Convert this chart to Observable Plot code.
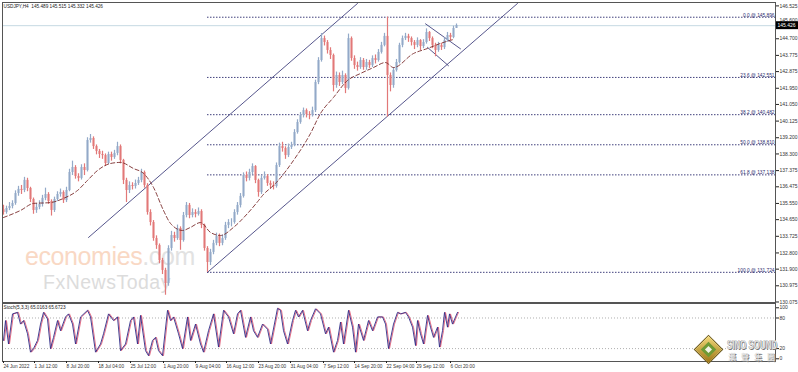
<!DOCTYPE html>
<html><head><meta charset="utf-8">
<script src="https://cdn.jsdelivr.net/npm/d3@7"></script>
<script src="https://cdn.jsdelivr.net/npm/@observablehq/plot@0.6"></script>
<style>
body{margin:0;background:#fff;}
#wrap{position:relative;width:798px;height:372px;overflow:hidden;background:#fff;font-family:"Liberation Sans",Arial,sans-serif;}
#wrap svg{position:absolute;left:0;background:transparent;}
.wm{position:absolute;white-space:nowrap;font-family:"Liberation Sans",Arial,sans-serif;line-height:1.117;}
</style></head><body><div id="wrap">
<div class="wm" style="left:25px;top:243px;font-size:25px;letter-spacing:-0.4px;"><span style="color:#f9d8c4">economies</span><span style="color:#e2e2e2">.com</span></div>
<div class="wm" style="left:43px;top:272px;font-size:19.5px;letter-spacing:0.5px;color:#dcdcdc;">FxNewsToday</div>
</div>
<script>
// ---- data ----
const header = "USDJPY,H4  145.489 145.515 145.332 145.426";
const stochHeader = "Stoch(5,3,3) 65.0163 65.6723";
const firstOpen = 135.20;
const lastPrice = 145.426;
const closes = [135.05,135.27,135.38,135.55,136.10,136.33,136.27,136.83,136.38,135.77,
135.16,135.33,135.49,135.83,136.05,135.66,135.16,135.77,136.05,136.16,
135.71,136.27,137.27,137.55,137.05,136.94,137.55,137.38,139.05,139.16,
138.71,138.44,138.27,138.21,137.77,138.27,138.10,138.33,138.71,137.94,
136.83,136.27,136.55,136.49,136.66,136.83,137.27,136.55,135.05,134.49,
133.60,133.21,132.38,131.83,131.10,133.05,133.77,133.60,134.16,133.49,
134.88,135.44,134.88,135.05,134.94,135.10,134.33,133.05,132.27,132.83,
133.33,133.71,133.33,133.60,134.33,134.49,134.49,135.05,135.44,135.94,
137.10,136.94,137.27,137.60,136.83,136.16,136.94,137.05,136.66,136.55,
136.49,137.66,138.71,138.60,138.21,138.66,138.77,139.49,140.05,140.44,
140.71,140.49,140.44,140.71,142.27,143.49,144.71,144.49,144.05,143.77,
142.10,142.66,142.27,142.66,141.94,144.71,143.60,143.21,143.10,143.49,
143.10,143.38,143.21,143.60,143.49,143.94,144.33,144.83,142.66,142.10,
142.94,143.38,144.33,144.71,144.83,144.71,144.49,144.33,144.60,144.27,
144.49,145.05,144.71,144.33,144.05,144.33,144.21,144.60,144.88,144.77,
145.27,145.43];
const highs = [135.45,135.40,135.60,135.70,136.25,136.50,136.55,137.00,136.95,136.45,
135.85,135.55,135.70,136.00,136.40,136.15,135.75,135.90,136.20,136.35,
136.25,136.45,137.45,137.90,137.65,137.20,137.70,137.75,139.20,139.38,
139.25,138.80,138.55,138.45,138.30,138.40,138.40,138.50,138.95,138.80,
138.00,136.95,136.75,136.70,136.85,137.00,137.45,137.35,136.65,135.20,
134.60,133.75,133.30,132.50,131.95,133.20,134.00,133.95,134.35,134.25,
135.05,135.60,135.55,135.25,135.20,135.30,135.20,134.40,133.15,133.00,
133.50,133.90,133.85,133.80,134.50,134.65,134.70,135.20,135.60,136.10,
137.25,137.30,137.45,137.75,137.65,136.90,137.10,137.30,137.15,136.80,
136.75,137.80,138.90,138.95,138.70,138.85,138.95,139.65,140.20,140.60,
140.85,140.80,140.65,140.90,142.40,143.65,144.99,144.85,144.60,144.20,
143.85,142.85,142.80,142.90,142.75,144.96,144.80,143.75,143.40,143.65,
143.60,143.55,143.50,143.75,143.80,144.10,144.50,145.00,145.90,142.80,
143.10,143.55,144.45,144.85,145.00,144.95,144.80,144.60,144.75,144.65,
144.65,145.25,145.10,144.80,144.45,144.50,144.45,144.75,145.05,145.00,
145.40,145.52];
const lows = [134.90,134.95,135.15,135.25,135.45,135.95,136.05,136.15,136.20,135.60,
134.95,135.00,135.20,135.35,135.70,135.50,134.85,135.05,135.65,135.90,
135.55,135.60,136.20,137.10,136.90,136.75,136.85,137.10,137.30,138.90,
138.55,138.25,138.05,138.00,137.60,137.70,137.90,138.00,138.20,137.75,
136.60,135.60,136.10,136.30,136.35,136.55,136.70,136.40,134.90,134.30,
133.45,133.00,132.20,131.60,130.45,130.95,132.90,133.40,133.50,132.95,
133.40,134.75,134.70,134.75,134.75,134.85,134.15,132.90,131.72,132.10,
132.70,133.20,133.15,133.20,133.50,134.15,134.25,134.40,134.90,135.30,
135.85,136.75,136.80,137.15,136.65,135.90,136.05,136.85,136.50,136.35,
136.30,136.40,137.55,138.40,138.00,138.10,138.55,138.70,139.40,139.95,
140.30,140.30,140.20,140.35,140.60,142.15,143.40,144.30,143.85,143.55,
141.75,141.95,142.05,142.15,141.65,141.85,143.45,143.00,142.90,143.00,
142.95,142.95,143.05,143.10,143.30,143.40,143.85,144.25,140.35,141.75,
141.95,142.85,143.30,144.20,144.60,144.50,144.30,144.10,144.20,144.05,
144.15,144.40,144.55,144.15,143.70,143.95,144.05,144.10,144.50,144.60,
144.70,145.33];
const barStep = 3; // H4 bars per drawn candle

// moving average (dashed), read as anchor points [bar, price]
const maBars =   [0,17,30,47,60,74,84,94,107,117,130,140,150,160,167,179,187,197,207,217,230,244,255,259,272,290,307,317,330,344,357,370,382,390,410,424,437,450];
const maPrices = [134.77,135.16,135.55,135.60,135.83,136.27,136.83,137.38,137.77,137.83,137.49,137.22,136.44,135.16,134.44,134.05,134.22,134.49,133.94,133.77,134.22,134.99,135.71,135.99,136.66,137.94,139.44,140.55,141.44,142.38,142.77,143.10,143.38,143.10,143.88,144.16,144.44,144.66];

// Fibonacci retracement
const fibLevels = [0, 23.6, 38.2, 50.0, 61.8, 100.0];
const fibPrices = [145.896, 142.551, 140.482, 138.810, 137.138, 131.724];
const fibStartBar = 204;

// channel + flag trendlines: [bar, price] anchors
const upperChannel = [[85,133.66],[354,146.66]];
const lowerChannel = [[204,131.724],[514,146.66]];
const flagUpper = [[422,145.53],[457,144.14]];
const flagLower = [[424,144.22],[445,143.20]];

// stochastic (5,3,3) main line turning points
const stochBars = [0,2,5,9,14,17,20,24,27,30,34,37,40,44,47,50,54,57,62,65,69,72,77,84,87,92,97,100,105,110,114,117,122,127,130,134,137,142,145,149,152,155,159,164,167,170,175,179,184,187,192,197,200,205,210,215,220,225,230,234,237,242,247,250,254,259,264,267,274,277,280,284,289,292,295,299,304,307,312,317,322,325,330,334,337,340,345,349,352,355,360,365,369,374,379,382,385,390,394,397,402,405,409,412,414,417,420,424,427,430,434,436,439,441,444,446,449,452,454];
const stochVals = [36,75,29,88,91,68,75,49,13,20,36,68,91,78,20,42,75,55,82,88,68,29,82,95,82,13,29,49,88,75,82,16,29,75,82,29,85,16,6,36,42,16,6,95,75,82,49,20,82,36,68,29,13,55,88,23,95,82,49,88,95,42,82,55,42,68,58,29,99,95,55,29,75,95,82,95,55,75,98,88,49,62,13,36,72,29,95,62,13,68,36,75,55,82,82,68,20,68,91,88,91,82,62,26,75,49,29,85,62,42,62,23,55,91,62,88,68,82,91];

// axes
const yTicks = [146.525,145.600,144.700,143.775,142.875,141.950,141.050,140.125,139.200,138.300,137.375,136.475,135.550,134.650,133.725,132.800,131.900,130.975,130.075];
const stochTicks = [0,20,80,100];
const xTickBars = [-1,30,62,94,126,159,191,222,254,286,319,350,382,412,446];
const xTickLabels = ["24 Jun 2022","1 Jul 12:00","8 Jul 20:00","18 Jul 04:00","25 Jul 12:00","1 Aug 20:00","9 Aug 04:00","16 Aug 12:00","23 Aug 20:00","31 Aug 04:00","7 Sep 12:00","14 Sep 20:00","22 Sep 04:00","29 Sep 12:00","6 Oct 20:00"];

// ---- build tables ----
const candles = closes.map((c, i) => ({
  bar: i * barStep, open: i ? closes[i - 1] : firstOpen, high: highs[i], low: lows[i], close: c
}));
const ma = maBars.map((b, i) => ({bar: b, price: maPrices[i]}));
const fibs = fibLevels.map((l, i) => ({level: l, price: fibPrices[i]}));
const seg = a => a.map(([bar, price]) => ({bar, price}));
const stoch = stochBars.map((b, i) => ({bar: b, v: stochVals[i]}));
const tickMap = new Map(xTickBars.map((b, i) => [b, xTickLabels[i]]));

const UP = "#93a9c8", DN = "#e27878", NAVY = "#2b2b6e";
const W = 798, xDom = [-1, 772];
const font = {fontFamily: "Liberation Sans, Arial, sans-serif", fontSize: "5px", background: "transparent", color: "#222", overflow: "visible"};

const mainChart = Plot.plot({
  width: W, height: 303, marginLeft: 2, marginRight: 23, marginTop: 2, marginBottom: 1,
  x: {domain: xDom, axis: null},
  y: {domain: [130.047, 146.714]},
  style: font,
  marks: [
    Plot.ruleY([lastPrice], {stroke: "#c6d9e2", strokeWidth: 1}),
    Plot.ruleY(fibs, {y: "price", x1: fibStartBar, x2: xDom[1], stroke: NAVY, strokeWidth: 0.9, strokeDasharray: "1.5,1.5"}),
    Plot.text(fibs, {x: 771, y: "price", text: d => d3.format(".1f")(d.level) + " @ " + d.price.toFixed(3), textAnchor: "end", lineAnchor: "bottom", dy: -0.5, fill: NAVY, fontSize: 4.8}),
    Plot.line(seg(upperChannel), {x: "bar", y: "price", stroke: NAVY, strokeWidth: 0.8, clip: true}),
    Plot.line(seg(lowerChannel), {x: "bar", y: "price", stroke: NAVY, strokeWidth: 0.8, clip: true}),
    Plot.line(seg(flagUpper), {x: "bar", y: "price", stroke: NAVY, strokeWidth: 0.8}),
    Plot.line(seg(flagLower), {x: "bar", y: "price", stroke: NAVY, strokeWidth: 0.8}),
    Plot.ruleX(candles, {x: "bar", y1: "low", y2: "high", stroke: d => d.close >= d.open ? UP : DN, strokeWidth: 1.2}),
    Plot.ruleX(candles, {x: "bar", y1: "open", y2: "close", stroke: d => d.close >= d.open ? UP : DN, strokeWidth: 2}),
    Plot.line(ma, {x: "bar", y: "price", stroke: "#7a2b2b", strokeWidth: 0.9, strokeDasharray: "4,2.5", curve: "monotone-x"}),
    Plot.frame({stroke: "#555", strokeWidth: 1}),
    Plot.axisY({anchor: "right", label: null, ticks: yTicks, tickFormat: d3.format(".3f"), tickSize: 3, tickPadding: 1, fontSize: 5, fill: "#333"}),
    Plot.rect([lastPrice], {x1: 773, x2: 796, y1: d => d - 0.22, y2: d => d + 0.22, fill: "#000"}),
    Plot.text([lastPrice], {x: 774, y: d => d, text: d => d.toFixed(3), textAnchor: "start", fill: "#fff", fontSize: 5}),
    Plot.text([header], {frameAnchor: "top-left", dx: 1, dy: 2, fill: "#222", fontSize: 4.7})
  ]
});
mainChart.style.top = "0px";
// nudge the label hidden under the price tag upward, as in the terminal
mainChart.querySelectorAll("text").forEach(t => {
  if (t.textContent === "145.600") t.setAttribute("transform", (t.getAttribute("transform") || "") + " translate(0,-2.5)");
});

const stochChart = Plot.plot({
  width: W, height: 70, marginLeft: 2, marginRight: 23, marginTop: 1, marginBottom: 11,
  x: {domain: xDom},
  y: {domain: [-5.3, 108.4]},
  style: font,
  marks: [
    Plot.ruleY([80, 20], {stroke: "#9a9a9a", strokeWidth: 0.8, strokeDasharray: "1,2"}),
    Plot.line(stoch, {x: "bar", y: "v", stroke: "#e0607a", strokeWidth: 0.9, dx: 1}),
    Plot.line(stoch, {x: "bar", y: "v", stroke: "#2e2a86", strokeWidth: 0.9}),
    Plot.frame({stroke: "#555", strokeWidth: 1}),
    Plot.axisY({anchor: "right", label: null, ticks: stochTicks, tickSize: 3, tickPadding: 1, fontSize: 5, fill: "#333"}),
    Plot.axisX({label: null, ticks: xTickBars, tickFormat: d => tickMap.get(d), textAnchor: "start", tickSize: 2, tickPadding: 1, dx: 1, fontSize: 4.7, fill: "#333"}),
    Plot.text([stochHeader], {frameAnchor: "top-left", dx: 1, dy: 2.5, fill: "#222", fontSize: 4.7})
  ]
});
stochChart.style.top = "302px";

const wrap = document.getElementById("wrap");
wrap.appendChild(mainChart);
wrap.appendChild(stochChart);
// separator between panels
const sep = document.createElement("div");
sep.style.cssText = "position:absolute;left:2px;top:301.5px;width:773px;height:2px;background:#555;";
wrap.appendChild(sep);

// Sino Sound logo (decoration)
const logo = document.createElement("div");
logo.innerHTML = `
<div style="position:absolute;left:699px;top:340px;width:19px;height:19px;transform:rotate(45deg);background:linear-gradient(135deg,#f4d97a,#9c7414);box-shadow:0 0 0 1px #6b5a20;"></div>
<div style="position:absolute;left:703px;top:344px;width:11px;height:11px;transform:rotate(45deg);background:#6f9a35;"></div>
<div style="position:absolute;left:706px;top:347px;width:5px;height:5px;transform:rotate(45deg);background:#f4f4e8;"></div>
<div style="position:absolute;left:727px;top:338px;font:bold 12px 'Liberation Sans',Arial,sans-serif;color:#e2e2e2;transform:scaleX(0.66);transform-origin:left top;text-shadow:1px 1px 0 #777,-0.5px -0.5px 0 #999;white-space:nowrap;">SINO SOUND</div>
<div style="position:absolute;left:728px;top:351px;font:bold 8px 'Noto Sans CJK TC',sans-serif;color:#e2e2e2;letter-spacing:5px;text-shadow:1px 1px 0 #777;white-space:nowrap;">漢聲集團</div>`;
wrap.appendChild(logo);
</script>
</body></html>
